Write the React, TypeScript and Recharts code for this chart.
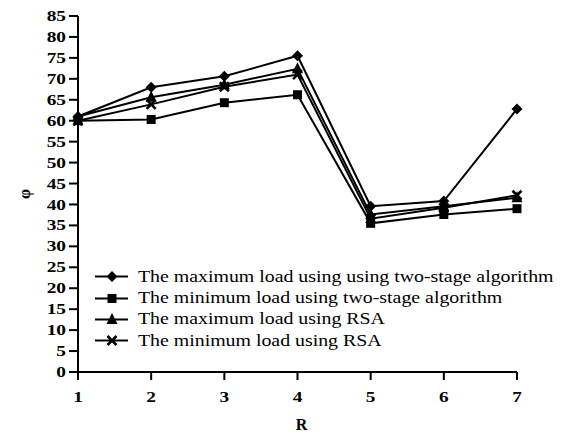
import React from 'react';
import { LineChart, Line, XAxis, YAxis, Label } from 'recharts';

const rValues = [1, 2, 3, 4, 5, 6, 7];
const maxTwoStage = [61, 68, 70.6, 75.5, 39.6, 40.8, 62.8];
const minTwoStage = [60, 60.3, 64.3, 66.2, 35.5, 37.6, 39];
const maxRsa = [61, 65.6, 68.6, 72.4, 37.6, 39.6, 41.6];
const minRsa = [60, 63.9, 68.1, 71, 36.6, 39.2, 42.2];
const yTicks = [0, 5, 10, 15, 20, 25, 30, 35, 40, 45, 50, 55, 60, 65, 70, 75, 80, 85];

const chartData = rValues.map((r, i) => ({
  r,
  maxTwoStage: maxTwoStage[i],
  minTwoStage: minTwoStage[i],
  maxRsa: maxRsa[i],
  minRsa: minRsa[i],
}));

const FONT = '"Liberation Serif", "DejaVu Serif", serif';

type MarkerKind = 'diamond' | 'square' | 'triangle' | 'cross';

const Marker = ({ kind, cx, cy }: { kind: MarkerKind; cx: number; cy: number }) => {
  if (kind === 'diamond') {
    const s = 5.5;
    return <path d={`M${cx},${cy - s}L${cx + s},${cy}L${cx},${cy + s}L${cx - s},${cy}Z`} fill="#000" />;
  }
  if (kind === 'square') {
    const s = 4.5;
    return <rect x={cx - s} y={cy - s} width={s * 2} height={s * 2} fill="#000" />;
  }
  if (kind === 'triangle') {
    const s = 5.5;
    return <path d={`M${cx},${cy - s - 1}L${cx + s},${cy + s - 1}L${cx - s},${cy + s - 1}Z`} fill="#000" />;
  }
  const s = 4.5;
  return (
    <path
      d={`M${cx - s},${cy - s}L${cx + s},${cy + s}M${cx + s},${cy - s}L${cx - s},${cy + s}`}
      stroke="#000"
      strokeWidth={2.6}
      fill="none"
    />
  );
};

const series: { key: string; name: string; marker: MarkerKind }[] = [
  { key: 'maxTwoStage', name: 'The maximum load using using two-stage algorithm', marker: 'diamond' },
  { key: 'minTwoStage', name: 'The minimum load using two-stage algorithm', marker: 'square' },
  { key: 'maxRsa', name: 'The maximum load using RSA', marker: 'triangle' },
  { key: 'minRsa', name: 'The minimum load using RSA', marker: 'cross' },
];

// the original's lettering is wider than it is tall, so stretch it sideways
const YTick = (props: any) => {
  const { x, y, payload } = props;
  return (
    <text
      transform={`translate(${x},${y}) scale(1.38,1)`}
      textAnchor="end"
      dy="0.36em"
      fill="#000"
      fontSize={14}
      fontWeight="bold"
      fontFamily={FONT}
    >
      {payload.value}
    </text>
  );
};

const XTick = (props: any) => {
  const { x, y, payload } = props;
  return (
    <text
      transform={`translate(${x},${y + 14}) scale(1.38,1)`}
      textAnchor="middle"
      fill="#000"
      fontSize={14}
      fontWeight="bold"
      fontFamily={FONT}
    >
      {payload.value}
    </text>
  );
};

const LegendBox = () => (
  <div
    style={{
      position: 'absolute',
      left: 94,
      top: 266,
      fontFamily: FONT,
      fontSize: 16,
      color: '#000',
    }}
  >
    {series.map((s) => (
      <div key={s.key} style={{ display: 'flex', alignItems: 'center', whiteSpace: 'nowrap', height: 21.4 }}>
        <svg width={36} height={21} style={{ marginRight: 8, flex: 'none' }}>
          <line x1={1} y1={10.5} x2={34} y2={10.5} stroke="#000" strokeWidth={2} />
          <Marker kind={s.marker} cx={18} cy={10.5} />
        </svg>
        <span style={{ display: 'inline-block', transform: 'scaleX(1.24)', transformOrigin: 'left center' }}>
          {s.name}
        </span>
      </div>
    ))}
  </div>
);

const App: React.FC = () => {
  return (
    <div style={{ position: 'absolute', left: 0, top: 0, width: 563, height: 435, background: '#fff' }}>
      <LineChart
        width={563}
        height={435}
        data={chartData}
        margin={{ top: 16, right: 46, left: 0, bottom: 0 }}
      >
        <XAxis
          dataKey="r"
          type="number"
          domain={[1, 7]}
          ticks={rValues}
          stroke="#000"
          strokeWidth={2}
          tick={<XTick />}
          tickSize={8}
          tickMargin={8}
          height={63}
        >
          <Label
            value="R"
            position="insideBottom"
            offset={5}
            dx={4}
            style={{ fill: '#000', fontSize: 16, fontWeight: 'bold', fontFamily: FONT }}
          />
        </XAxis>
        <YAxis
          domain={[0, 85]}
          ticks={yTicks}
          interval={0}
          stroke="#000"
          strokeWidth={2}
          tick={<YTick />}
          tickSize={9}
          tickMargin={3}
          width={78}
        >
          <Label
            content={(props: any) => {
              const vb = props.viewBox;
              const cx = vb.x + 24;
              const cy = vb.y + vb.height / 2;
              return (
                <text
                  x={cx}
                  y={cy}
                  transform={`rotate(-90, ${cx}, ${cy})`}
                  textAnchor="middle"
                  dominantBaseline="central"
                  fill="#000"
                  fontSize={16}
                  fontWeight="bold"
                  fontFamily={FONT}
                >
                  φ
                </text>
              );
            }}
          />
        </YAxis>
        {series.map((s) => (
          <Line
            key={s.key}
            dataKey={s.key}
            name={s.name}
            type="linear"
            stroke="#000"
            strokeWidth={2}
            isAnimationActive={false}
            dot={(p: any) => <Marker key={`${s.key}-${p.index}`} kind={s.marker} cx={p.cx} cy={p.cy} />}
            activeDot={false}
          />
        ))}
      </LineChart>
      <LegendBox />
    </div>
  );
};

export default App;
